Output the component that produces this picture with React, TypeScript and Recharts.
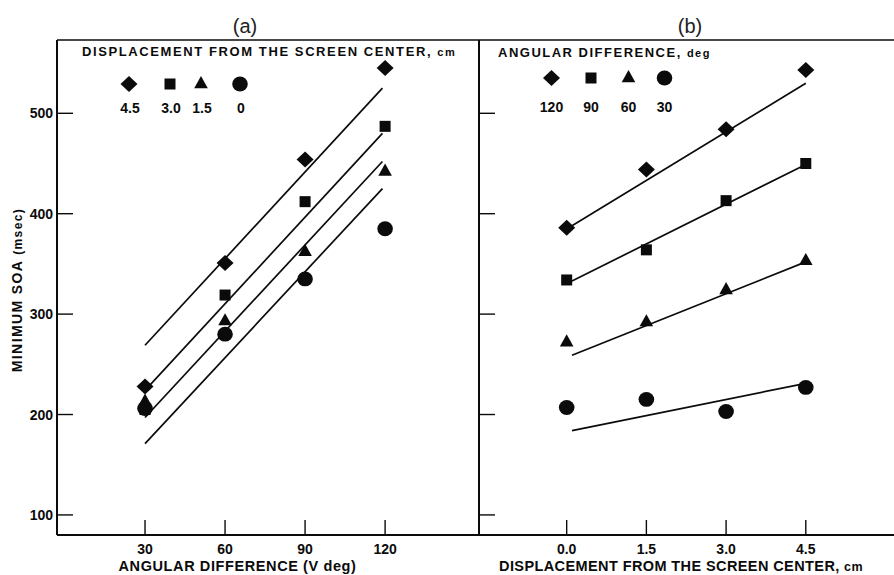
import React from "react";
import { ComposedChart, Scatter, XAxis, YAxis, ReferenceLine } from "recharts";

// Minimum SOA vs angular difference (a) and vs displacement (b), two-panel scan recreation
const FONT = '"Liberation Sans", Arial, Helvetica, sans-serif';
const INK = "#0b0b0b";

// y axis shared by both panels
const SOA_DOMAIN = [80, 573];
const SOA_TICKS = [100, 200, 300, 400, 500];

// (a) x = angular difference, one series per displacement (cm)
const ANGLES = [30, 60, 90, 120];
const ANGLE_DOMAIN = [-3, 155.2];
const SOA_DISP_45 = [228, 351, 454, 545];
const SOA_DISP_30 = [205, 319, 412, 487];
const SOA_DISP_15 = [213, 293, 362, 442];
const SOA_DISP_0 = [206, 280, 335, 385];
// fitted lines (endpoints)
const FIT_ANGLE_X = [30, 119];
const FIT_DISP_45 = [269, 525];
const FIT_DISP_30 = [224, 480];
const FIT_DISP_15 = [197, 452];
const FIT_DISP_0 = [171, 425];

// (b) x = displacement, one series per angular difference (deg)
const DISPS = [0, 1.5, 3.0, 4.5];
const DISP_DOMAIN = [-1.65, 6.16];
const SOA_ANG_120 = [386, 444, 484, 543];
const SOA_ANG_90 = [334, 364, 413, 450];
const SOA_ANG_60 = [272, 292, 324, 353];
const SOA_ANG_30 = [207, 215, 203, 227];
const FIT_DISP_X = [0.1, 4.5];
const FIT_ANG_120 = [388, 530];
const FIT_ANG_90 = [333, 449];
const FIT_ANG_60 = [259, 352];
const FIT_ANG_30 = [184, 231];

const LEGEND_A = ["4.5", "3.0", "1.5", "0"];
const LEGEND_B = ["120", "90", "60", "30"];

type ShapeProps = { cx?: number; cy?: number };

const Diamond = ({ cx = 0, cy = 0 }: ShapeProps) => (
  <path d={`M${cx},${cy - 8}L${cx + 8.5},${cy}L${cx},${cy + 8}L${cx - 8.5},${cy}Z`} fill={INK} />
);
const Square = ({ cx = 0, cy = 0 }: ShapeProps) => (
  <rect x={cx - 5.5} y={cy - 5.5} width={11} height={11} fill={INK} />
);
const Triangle = ({ cx = 0, cy = 0 }: ShapeProps) => (
  <path d={`M${cx},${cy - 8}L${cx + 6.8},${cy + 4.2}L${cx - 6.8},${cy + 4.2}Z`} fill={INK} />
);
const Circle = ({ cx = 0, cy = 0 }: ShapeProps) => (
  <ellipse cx={cx} cy={cy} rx={7.8} ry={7.4} fill={INK} />
);
const NoDot = () => <g />;

const SHAPES = [Diamond, Square, Triangle, Circle];

const toPoints = (xs: number[], ys: number[]) => xs.map((x, i) => ({ x, y: ys[i] }));

const PANEL_A = [
  { pts: SOA_DISP_45, fit: FIT_DISP_45 },
  { pts: SOA_DISP_30, fit: FIT_DISP_30 },
  { pts: SOA_DISP_15, fit: FIT_DISP_15 },
  { pts: SOA_DISP_0, fit: FIT_DISP_0 },
];
const PANEL_B = [
  { pts: SOA_ANG_120, fit: FIT_ANG_120 },
  { pts: SOA_ANG_90, fit: FIT_ANG_90 },
  { pts: SOA_ANG_60, fit: FIT_ANG_60 },
  { pts: SOA_ANG_30, fit: FIT_ANG_30 },
];

const axisStroke = { stroke: INK, strokeWidth: 2 };

// ticks point inward, labels outside
function XTick(props: any) {
  const { x, y, payload, fmt } = props;
  return (
    <g>
      <line x1={x} x2={x} y1={y - 15} y2={y} stroke={INK} strokeWidth={1.4} />
      <text x={x} y={y + 18.5} textAnchor="middle" fontFamily={FONT} fontWeight={700} fontSize={14} fill={INK}>
        {fmt(payload.value)}
      </text>
    </g>
  );
}

function YTick(props: any) {
  const { x, y, payload, showLabel } = props;
  return (
    <g>
      <line x1={x} x2={x + 16} y1={y} y2={y} stroke={INK} strokeWidth={1.4} />
      {showLabel && (
        <text x={x - 4} y={y + 5} textAnchor="end" fontFamily={FONT} fontWeight={700} fontSize={14} fill={INK}>
          {payload.value}
        </text>
      )}
    </g>
  );
}

function Panel({
  width,
  yWidth,
  xs,
  fitX,
  domain,
  fmt,
  rows,
  showY,
}: {
  width: number;
  yWidth: number;
  xs: number[];
  fitX: number[];
  domain: number[];
  fmt: (v: number) => string;
  rows: { pts: number[]; fit: number[] }[];
  showY: boolean;
}) {
  return (
    <ComposedChart width={width} height={575} margin={{ top: 40, right: 0, bottom: 0, left: 0 }}>
      <XAxis
        type="number"
        dataKey="x"
        domain={domain}
        ticks={xs}
        allowDataOverflow
        height={40}
        tickSize={0}
        tickMargin={0}
        tickLine={false}
        tick={(p: any) => <XTick {...p} fmt={fmt} />}
        axisLine={axisStroke}
      />
      <YAxis
        type="number"
        dataKey="y"
        domain={SOA_DOMAIN}
        ticks={SOA_TICKS}
        allowDataOverflow
        width={yWidth}
        tickSize={0}
        tickMargin={0}
        tickLine={false}
        tick={(p: any) => <YTick {...p} showLabel={showY} />}
        axisLine={axisStroke}
      />
      <ReferenceLine y={SOA_DOMAIN[1]} stroke={INK} strokeWidth={1.6} />
      {rows.map((r, i) => (
        <Scatter
          key={`fit${i}`}
          data={toPoints(fitX, r.fit)}
          line={{ stroke: INK, strokeWidth: 1.7 }}
          shape={NoDot}
          isAnimationActive={false}
        />
      ))}
      {rows.map((r, i) => (
        <Scatter
          key={`pts${i}`}
          data={toPoints(xs, r.pts)}
          shape={SHAPES[i]}
          isAnimationActive={false}
        />
      ))}
    </ComposedChart>
  );
}

const LEG_A_X = [129, 170, 201, 240];
const LEG_B_X = [551.5, 591, 628.5, 664.5];

export default function App() {
  const boldText = { fontFamily: FONT, fontWeight: 700, fill: INK } as const;
  return (
    <div style={{ position: "absolute", left: 0, top: 0, width: 894, height: 575, background: "#fff" }}>
      <div style={{ position: "absolute", left: 0, top: 0 }}>
        <Panel
          width={479}
          yWidth={57}
          xs={ANGLES}
          fitX={FIT_ANGLE_X}
          domain={ANGLE_DOMAIN}
          fmt={(v) => String(v)}
          rows={PANEL_A}
          showY
        />
      </div>
      <div style={{ position: "absolute", left: 440, top: 0 }}>
        <Panel
          width={454}
          yWidth={39}
          xs={DISPS}
          fitX={FIT_DISP_X}
          domain={DISP_DOMAIN}
          fmt={(v) => v.toFixed(1)}
          rows={PANEL_B}
          showY={false}
        />
      </div>
      <svg
        width={894}
        height={575}
        style={{ position: "absolute", left: 0, top: 0, pointerEvents: "none" }}
      >
        <text x={245} y={33} textAnchor="middle" fontFamily={FONT} fontSize={20} fill="#222">
          (a)
        </text>
        <text x={690} y={33} textAnchor="middle" fontFamily={FONT} fontSize={20} fill="#222">
          (b)
        </text>

        <text x={82} y={55.5} {...boldText} fontSize={13} letterSpacing={1.6}>
          DISPLACEMENT FROM THE SCREEN CENTER, <tspan fontSize={11}>cm</tspan>
        </text>
        <text x={498} y={56.5} {...boldText} fontSize={13} letterSpacing={1.5}>
          ANGULAR DIFFERENCE, <tspan fontSize={11}>deg</tspan>
        </text>
        {LEGEND_A.map((lab, i) => {
          const S = SHAPES[i];
          return (
            <g key={lab}>
              <S cx={LEG_A_X[i]} cy={84} />
              <text x={LEG_A_X[i] + 1} y={113} textAnchor="middle" {...boldText} fontSize={14}>
                {lab}
              </text>
            </g>
          );
        })}
        {LEGEND_B.map((lab, i) => {
          const S = SHAPES[i];
          return (
            <g key={lab}>
              <S cx={LEG_B_X[i]} cy={78} />
              <text x={LEG_B_X[i]} y={112} textAnchor="middle" {...boldText} fontSize={14}>
                {lab}
              </text>
            </g>
          );
        })}

        <text
          x={22}
          y={290}
          transform="rotate(-90 22 290)"
          textAnchor="middle"
          {...boldText}
          fontSize={14}
          letterSpacing={1.4}
        >
          MINIMUM SOA <tspan fontSize={12}>(msec)</tspan>
        </text>
        <text x={237.5} y={571} textAnchor="middle" {...boldText} fontSize={14.5} letterSpacing={0.6}>
          ANGULAR DIFFERENCE (V deg)
        </text>
        <text x={681} y={571} textAnchor="middle" {...boldText} fontSize={14.5} letterSpacing={0.4}>
          DISPLACEMENT FROM THE SCREEN CENTER, <tspan fontSize={12.5}>cm</tspan>
        </text>
      </svg>
    </div>
  );
}
